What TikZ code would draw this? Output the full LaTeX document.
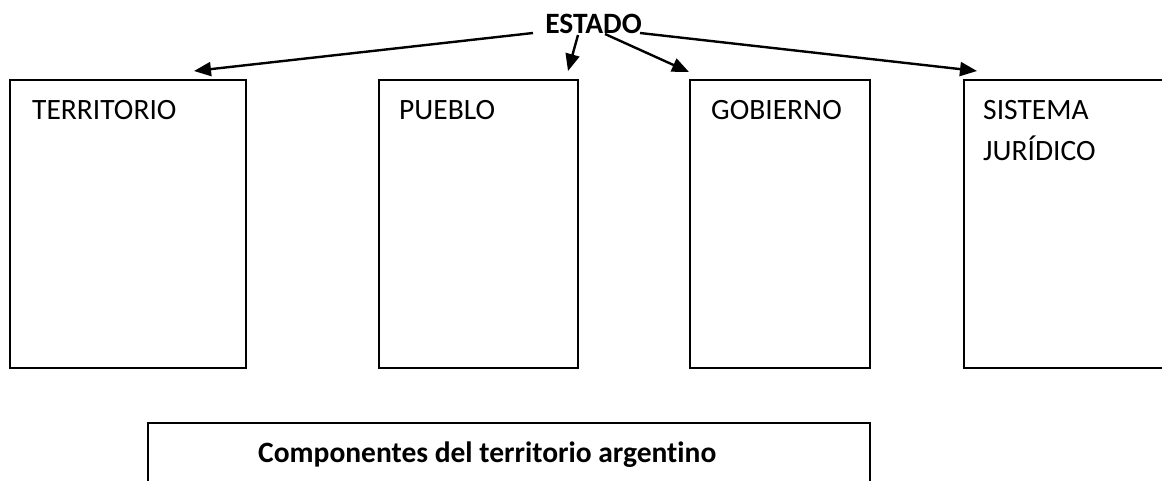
\documentclass[tikz,border=0pt]{standalone}
\usepackage{fontspec}
\setmainfont{Carlito}[Ligatures=NoCommon]
\usetikzlibrary{arrows.meta}
\begin{document}
\begin{tikzpicture}[x=1pt,y=-1pt,
  box/.style={draw,line width=2pt,inner sep=0pt,anchor=north west},
  lbl/.style={anchor=base west,inner sep=0pt,font=\fontsize{29.5}{41}\selectfont},
  blbl/.style={anchor=base,inner sep=0pt,font=\fontsize{29.5}{41}\selectfont\bfseries},
  conn/.style={line width=2.4pt,-{Triangle[length=17pt,width=14pt]}}]
\useasboundingbox (0,0) rectangle (1162,480);
\clip (0,0) rectangle (1162,480);
\node[blbl] (estado) at (593.5,33) {ESTADO};
\node[box,minimum width=236pt,minimum height=288pt] (terr) at (9,79) {};
\node[box,minimum width=199pt,minimum height=288pt] (pueblo) at (378,79) {};
\node[box,minimum width=180pt,minimum height=288pt] (gob) at (689,79) {};
\node[box,minimum width=260pt,minimum height=288pt] (sist) at (963,79) {};
\node[box,minimum width=722pt,minimum height=100pt] (comp) at (147,422) {};
\node[lbl] (tterr) at (32,119) {TERRITORIO};
\node[lbl] (tpueblo) at (399,119) {PUEBLO};
\node[lbl] (tgob) at (711,119) {GOBIERNO};
\node[lbl] (tsist) at (983,119) {SISTEMA};
\node[lbl] (tjur) at (983,160) {JURÍDICO};
\node[lbl,font=\fontsize{29.5}{41}\selectfont\bfseries] (tcomp) at (258,462) {Componentes del territorio argentino};
\coordinate (s1) at (533,33);
\coordinate (s2) at (578,35);
\coordinate (s3) at (605,34);
\coordinate (s4) at (640,33);
\coordinate (e1) at (194,71);
\coordinate (e2) at (568,71);
\coordinate (e3) at (689,72);
\coordinate (e4) at (977,71);
\draw[conn] (s1) -- (e1);
\draw[conn] (s2) -- (e2);
\draw[conn] (s3) -- (e3);
\draw[conn] (s4) -- (e4);
\end{tikzpicture}
\end{document}
